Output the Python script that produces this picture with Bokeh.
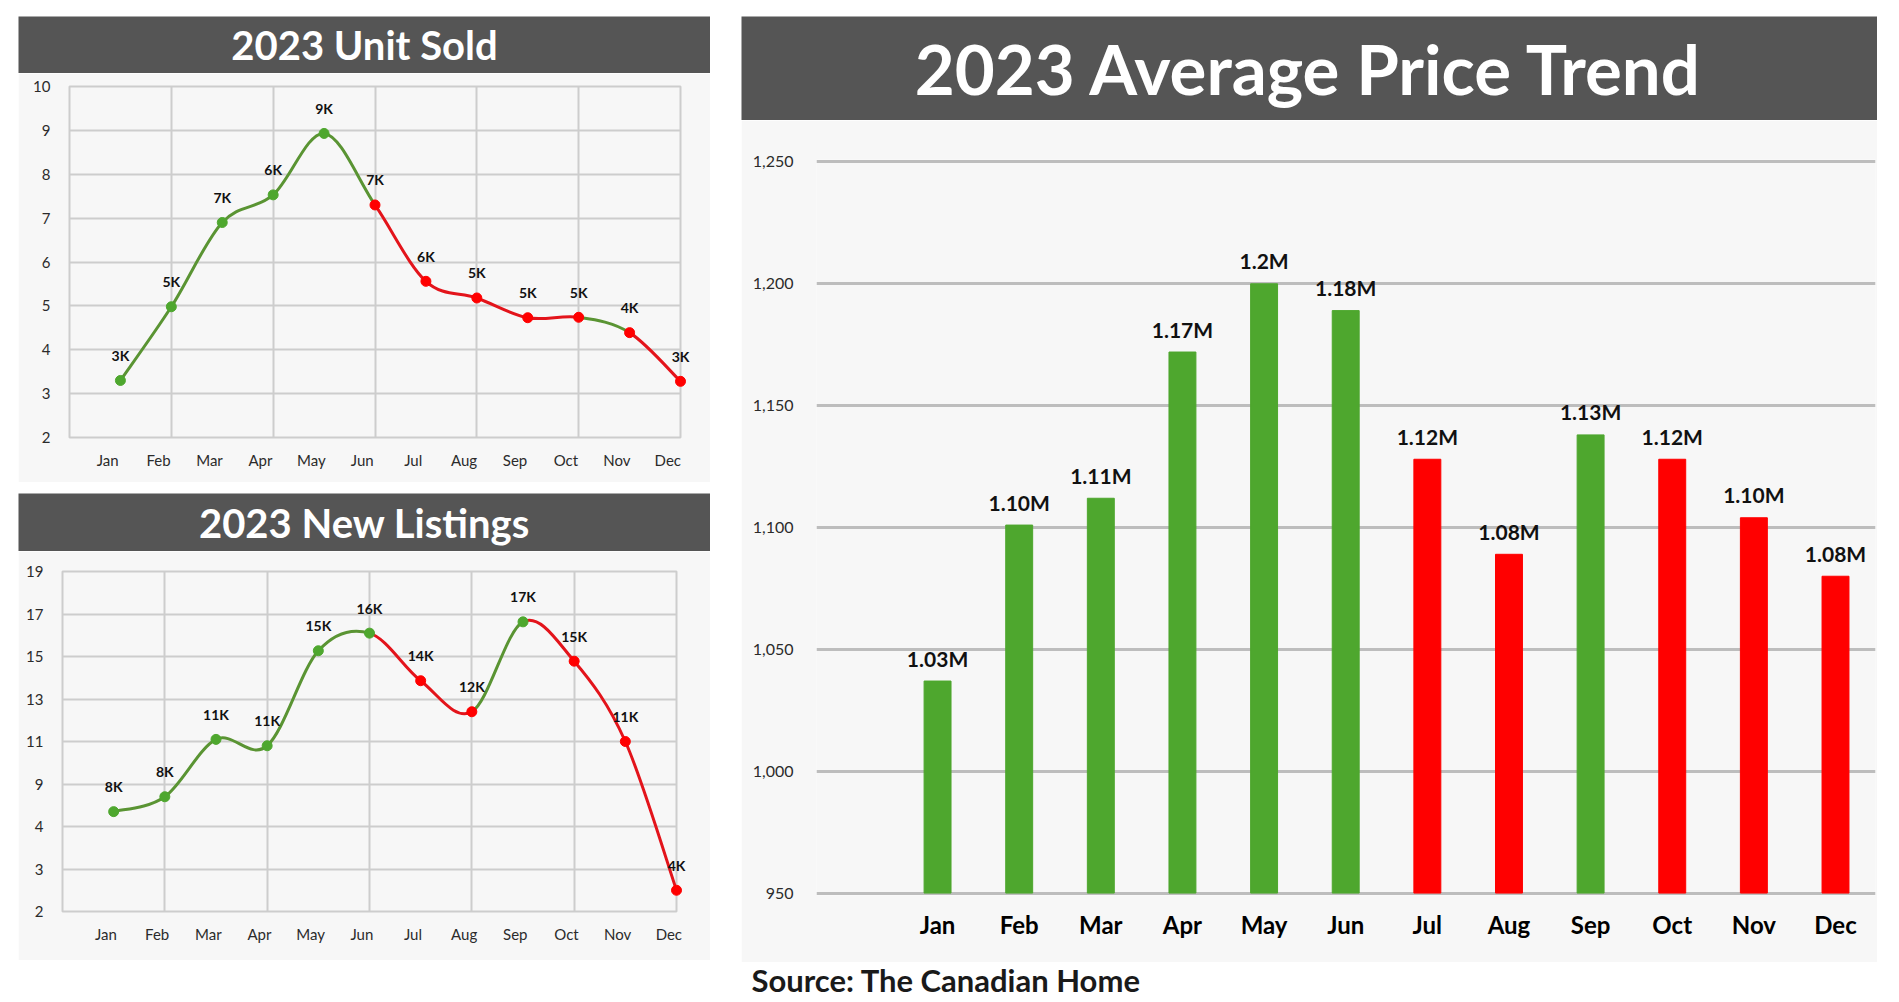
import numpy as np
from bokeh.plotting import figure
from bokeh.models import (ColumnDataSource, Range1d, FixedTicker, LabelSet, Label,
                          NumeralTickFormatter, Spacer)
from bokeh.layouts import column, row
from bokeh.core.properties import value
from bokeh.embed import file_html
from bokeh.resources import INLINE

# ---------------------------------------------------------------- data
months = ["Jan", "Feb", "Mar", "Apr", "May", "Jun",
          "Jul", "Aug", "Sep", "Oct", "Nov", "Dec"]

# Units sold (thousands)
units_sold = [3.30, 4.98, 6.90, 7.53, 8.93, 7.30, 5.56, 5.18, 4.73, 4.74, 4.39, 3.28]
units_sold_labels = ["3K", "5K", "7K", "6K", "9K", "7K", "6K", "5K", "5K", "5K", "4K", "3K"]
units_point_up = [1, 1, 1, 1, 1, 0, 0, 0, 0, 0, 0, 0]
units_segment_up = [1, 1, 1, 1, 1, 0, 0, 0, 0, 1, 0]        # segments ending Feb..Dec
units_ticks = [2, 3, 4, 5, 6, 7, 8, 9, 10]

# New listings (thousands)
new_listings = [5.75, 7.5, 11.1, 10.8, 15.27, 16.1, 13.86, 12.4, 16.63, 14.78, 11.0, 2.5]
new_listings_labels = ["8K", "8K", "11K", "11K", "15K", "16K", "14K", "12K", "17K", "15K", "11K", "4K"]
listings_point_up = [1, 1, 1, 1, 1, 1, 0, 0, 1, 0, 0, 0]
listings_segment_up = [1, 1, 1, 1, 1, 0, 0, 1, 0, 0, 0]
listings_ticks = [2, 3, 4, 9, 11, 13, 15, 17, 19]

# Average price (thousands of dollars)
avg_price = [1037, 1101, 1112, 1172, 1200, 1189, 1128, 1089, 1138, 1128, 1104, 1080]
avg_price_labels = ["1.03M", "1.10M", "1.11M", "1.17M", "1.2M", "1.18M",
                    "1.12M", "1.08M", "1.13M", "1.12M", "1.10M", "1.08M"]
price_up = [1, 1, 1, 1, 1, 1, 0, 0, 1, 0, 0, 0]
price_ticks = [950, 1000, 1050, 1100, 1150, 1200, 1250]

source_text = "Source: The Canadian Home"

# ---------------------------------------------------------------- style
FONT = "Lato"
BAR_DARK = "#555555"
PANEL = "#f7f7f7"
GRID = "#cdcdcd"
GREEN_LINE, GREEN_DOT = "#5a9433", "#4ea72e"
RED_LINE, RED_DOT = "#e3141b", "#ff0000"
BAR_GREEN, BAR_RED = "#4ea72e", "#ff0000"


def title_bar(text, w, h, size):
    t = figure(width=w, height=h, x_range=Range1d(0, 1), y_range=Range1d(0, 1),
               x_axis_type=None, y_axis_type=None, toolbar_location=None,
               output_backend="svg", min_border=0, min_border_left=0,
               min_border_right=0, min_border_top=0, min_border_bottom=0,
               frame_align=False,
               background_fill_color=BAR_DARK, border_fill_color=BAR_DARK,
               outline_line_color=None)
    t.add_layout(Label(x=0.5, y=0.5, text=text, text_align="center",
                       text_baseline="middle", text_color="white",
                       text_font=FONT, text_font_style="bold",
                       text_font_size=size))
    return t


def smooth(xs, ys):
    """Catmull-Rom style cubic Bezier pieces through consecutive points."""
    P = np.column_stack([xs, ys]).astype(float)
    n = len(P)
    out = {k: [] for k in ("x0", "y0", "x1", "y1", "cx0", "cy0", "cx1", "cy1")}
    for i in range(n - 1):
        p0, p1 = P[max(i - 1, 0)], P[i]
        p2, p3 = P[i + 1], P[min(i + 2, n - 1)]
        c1 = p1 + (p2 - p0) / 6.0
        c2 = p2 - (p3 - p1) / 6.0
        out["x0"].append(p1[0]); out["y0"].append(p1[1])
        out["x1"].append(p2[0]); out["y1"].append(p2[1])
        out["cx0"].append(c1[0]); out["cy0"].append(c1[1])
        out["cx1"].append(c2[0]); out["cy1"].append(c2[1])
    return out


def line_panel(ys_plot, labels, point_up, seg_up, y_range, y_tick_pos, y_tick_text,
               label_shift, borders):
    left, right, top, bottom = borders
    p = figure(width=692, height=409, x_range=Range1d(0, 12), y_range=y_range,
               toolbar_location=None, output_backend="svg", frame_align=False,
               background_fill_color=PANEL, border_fill_color=PANEL,
               min_border=0, min_border_left=left, min_border_right=right,
               min_border_top=top, min_border_bottom=bottom,
               outline_line_color=GRID, outline_line_width=2)
    xs = np.arange(1, 13)

    p.xaxis.ticker = FixedTicker(ticks=[round(float(x) - label_shift, 2) for x in xs])
    p.xaxis.major_label_overrides = {round(float(x) - label_shift, 2): m
                                     for x, m in zip(xs, months)}
    p.yaxis.ticker = FixedTicker(ticks=list(y_tick_pos))
    p.yaxis.major_label_overrides = {float(pos): str(t) for pos, t in zip(y_tick_pos, y_tick_text)}
    for ax in (p.xaxis, p.yaxis):
        ax.axis_line_color = None
        ax.major_tick_line_color = None
        ax.minor_tick_line_color = None
        ax.major_label_text_font = FONT
        ax.major_label_text_font_size = "15px"
        ax.major_label_text_color = "#2b2b2b"
    p.xaxis.major_label_standoff = 7
    p.yaxis.major_label_standoff = 13

    p.xgrid.ticker = FixedTicker(ticks=list(range(0, 13, 2)))
    p.ygrid.ticker = FixedTicker(ticks=list(y_tick_pos))
    p.grid.grid_line_color = GRID
    p.grid.grid_line_width = 2

    seg = smooth(xs, ys_plot)
    seg["color"] = [GREEN_LINE if u else RED_LINE for u in seg_up]
    p.bezier(x0="x0", y0="y0", x1="x1", y1="y1", cx0="cx0", cy0="cy0",
             cx1="cx1", cy1="cy1", line_color="color", line_width=3,
             source=ColumnDataSource(seg))

    pts = ColumnDataSource(dict(x=xs, y=ys_plot, label=labels,
                                color=[GREEN_DOT if u else RED_DOT for u in point_up]))
    p.scatter("x", "y", size=10, fill_color="color", line_color="color",
              source=pts, level="overlay")
    p.text(x="x", y="y", text="label", source=pts, text_align="center",
           text_baseline="middle", y_offset=-25, text_font=value(FONT),
           text_font_style="bold", text_font_size="14px", text_color="#111111",
           level="overlay")
    return p


# ---------------------------------------------------------------- units sold
t1 = title_bar("2023 Unit Sold", 692, 57, "40px")
p1 = line_panel(units_sold, units_sold_labels, units_point_up, units_segment_up,
                Range1d(2, 10), units_ticks, units_ticks, 0.25, (51, 30, 13, 45))

# ---------------------------------------------------------------- new listings
listing_pos = list(range(len(listings_ticks)))
listings_plot = np.interp(new_listings, listings_ticks, listing_pos)
t2 = title_bar("2023 New Listings", 692, 58, "40px")
p2 = line_panel(listings_plot, new_listings_labels, listings_point_up, listings_segment_up,
                Range1d(0, 8), listing_pos, listings_ticks, 0.15, (44, 34, 20, 49))

# ---------------------------------------------------------------- average price
t3 = title_bar("2023 Average Price Trend", 1136, 104, "69px")
idx = np.arange(len(months))
p3 = figure(width=1136, height=842, x_range=Range1d(-1.483, 11.49),
            y_range=Range1d(949, 1251), toolbar_location=None, output_backend="svg",
            frame_align=False,
            background_fill_color=PANEL, border_fill_color=PANEL,
            min_border=0, min_border_left=75, min_border_right=2,
            min_border_top=39, min_border_bottom=67, outline_line_color=None)
bars = ColumnDataSource(dict(x=idx, top=avg_price, label=avg_price_labels,
                             color=[BAR_GREEN if u else BAR_RED for u in price_up]))
p3.vbar(x="x", top="top", bottom=950, width=0.33, color="color", source=bars)
p3.add_layout(LabelSet(x="x", y="top", text="label", source=bars,
                       text_align="center", text_baseline="middle", y_offset=23,
                       text_font=value(FONT), text_font_style="bold",
                       text_font_size="21px", text_color="#111111"))
p3.xaxis.ticker = FixedTicker(ticks=list(idx))
p3.xaxis.major_label_overrides = {int(i): m for i, m in zip(idx, months)}
p3.yaxis.ticker = FixedTicker(ticks=price_ticks)
p3.yaxis.formatter = NumeralTickFormatter(format="0,0")
for ax in (p3.xaxis, p3.yaxis):
    ax.axis_line_color = None
    ax.major_tick_line_color = None
    ax.minor_tick_line_color = None
    ax.major_label_text_font = FONT
p3.xaxis.major_label_text_font_size = "24px"
p3.xaxis.major_label_text_font_style = "bold"
p3.xaxis.major_label_text_color = "#000000"
p3.xaxis.major_label_standoff = 8
p3.yaxis.major_label_text_font_size = "16px"
p3.yaxis.major_label_text_color = "#2b2b2b"
p3.yaxis.major_label_standoff = 17
p3.xgrid.grid_line_color = None
p3.ygrid.ticker = FixedTicker(ticks=price_ticks)
p3.ygrid.grid_line_color = "#bdbdbd"
p3.ygrid.grid_line_width = 3

src = figure(width=1136, height=38, x_range=Range1d(0, 1136), y_range=Range1d(0, 38),
             x_axis_type=None, y_axis_type=None, toolbar_location=None,
             output_backend="svg", min_border=0, min_border_left=0,
             min_border_right=0, min_border_top=0, min_border_bottom=0,
             frame_align=False, outline_line_color=None,
             background_fill_color="white", border_fill_color="white")
src.add_layout(Label(x=10, y=21, text=source_text, text_baseline="middle",
                     text_font=FONT, text_font_style="bold", text_font_size="31px",
                     text_color="#1a1a1a"))

left = column(t1, p1, Spacer(height=11), t2, p2, spacing=0)
right = column(t3, p3, src, spacing=0)
root = row(left, right, spacing=31)
root.margin = (16, 0, 0, 18)

open("out.html", "w").write(file_html(root, INLINE))
